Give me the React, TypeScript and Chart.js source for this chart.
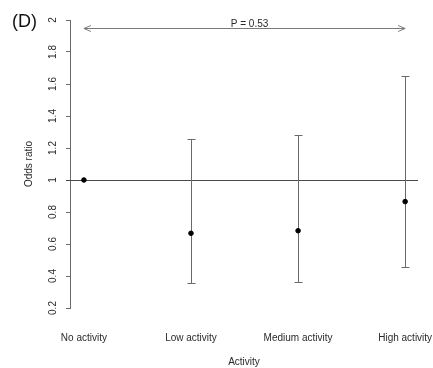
import React, { useEffect, useRef } from "react";
import { Chart, registerables } from "chart.js";

Chart.register(...registerables);

const CATEGORIES = ["No activity", "Low activity", "Medium activity", "High activity"];
const ODDS = [1, 0.667, 0.683, 0.865];
const CI_LOW: (number | null)[] = [null, 0.354, 0.363, 0.454];
const CI_HIGH: (number | null)[] = [null, 1.254, 1.283, 1.65];
const Y_TICKS = [0.2, 0.4, 0.6, 0.8, 1, 1.2, 1.4, 1.6, 1.8, 2];
const REF_Y = 1;
const ARROW_Y = 1.95;
const P_TEXT = "P = 0.53";
const PANEL_LABEL = "(D)";

const FONT = "'Liberation Sans', Arial, Helvetica, sans-serif";
const TEXT_COLOR = "#2a2a2a";
const LINE_COLOR = "#6a6a6a";

const overlay = {
  id: "overlay",
  beforeDatasetsDraw(chart: any) {
    const { ctx, chartArea, scales } = chart;
    const x = scales.x;
    const y = scales.y;
    ctx.save();
    ctx.lineWidth = 1;

    // reference line at OR = 1
    const yr = Math.round(y.getPixelForValue(REF_Y)) + 0.5;
    ctx.strokeStyle = "#4a4a4a";
    ctx.beginPath();
    ctx.moveTo(chartArea.left - 4, yr);
    ctx.lineTo(chartArea.right, yr);
    ctx.stroke();

    // error bars
    ctx.strokeStyle = LINE_COLOR;
    CATEGORIES.forEach((_, i) => {
      const lo = CI_LOW[i];
      const hi = CI_HIGH[i];
      if (lo == null || hi == null) return;
      const px = Math.round(x.getPixelForValue(i + 1)) + 0.5;
      const pLo = Math.round(y.getPixelForValue(lo)) + 0.5;
      const pHi = Math.round(y.getPixelForValue(hi)) + 0.5;
      ctx.beginPath();
      ctx.moveTo(px, pLo);
      ctx.lineTo(px, pHi);
      ctx.moveTo(px - 4, pLo);
      ctx.lineTo(px + 4, pLo);
      ctx.moveTo(px - 4, pHi);
      ctx.lineTo(px + 4, pHi);
      ctx.stroke();
    });

    // double arrow
    const ax1 = x.getPixelForValue(1);
    const ax2 = x.getPixelForValue(CATEGORIES.length);
    const ay = Math.round(y.getPixelForValue(ARROW_Y)) + 0.5;
    ctx.strokeStyle = "#7a7a7a";
    ctx.beginPath();
    ctx.moveTo(ax1, ay);
    ctx.lineTo(ax2, ay);
    ctx.moveTo(ax1 + 7, ay - 3);
    ctx.lineTo(ax1, ay);
    ctx.lineTo(ax1 + 7, ay + 3);
    ctx.moveTo(ax2 - 7, ay - 3);
    ctx.lineTo(ax2, ay);
    ctx.lineTo(ax2 - 7, ay + 3);
    ctx.stroke();

    ctx.fillStyle = TEXT_COLOR;
    ctx.font = `10px ${FONT}`;
    ctx.textAlign = "center";
    ctx.textBaseline = "alphabetic";
    ctx.fillText(P_TEXT, (ax1 + ax2) / 2 + 5, ay - 2);
    ctx.restore();
  },
  afterDraw(chart: any) {
    const { ctx } = chart;
    ctx.save();
    ctx.fillStyle = "#111";
    ctx.font = `18px ${FONT}`;
    ctx.textAlign = "left";
    ctx.textBaseline = "middle";
    ctx.fillText(PANEL_LABEL, 12, 22);
    ctx.restore();
  },
};

export default function App() {
  const ref = useRef<HTMLCanvasElement | null>(null);

  useEffect(() => {
    if (!ref.current) return;
    const font = { family: FONT, size: 10 };
    const chart = new Chart(ref.current, {
      type: "scatter",
      data: {
        datasets: [
          {
            label: "Odds ratio",
            data: ODDS.map((v, i) => ({ x: i + 1, y: v })),
            backgroundColor: "#000",
            borderColor: "#000",
            pointRadius: 2.3,
            pointHoverRadius: 2.3,
            showLine: false,
          },
        ],
      },
      options: {
        responsive: false,
        animation: false,
        events: [],
        layout: { padding: { left: 0, top: 20, right: 15, bottom: 0 } },
        plugins: {
          legend: { display: false },
          tooltip: { enabled: false },
          title: { display: false },
        },
        scales: {
          x: {
            type: "linear",
            min: 0.87,
            max: 4.12,
            afterBuildTicks: (s: any) => {
              s.ticks = CATEGORIES.map((_, i) => ({ value: i + 1 }));
            },
            afterFit: (s: any) => {
              s.height = 60;
              s.paddingLeft = 0;
              s.paddingRight = 0;
            },
            ticks: {
              autoSkip: false,
              minRotation: 0,
              maxRotation: 0,
              padding: 24,
              font,
              color: TEXT_COLOR,
              callback: (_v: any, i: number) => CATEGORIES[i],
            },
            grid: { display: false, drawTicks: false },
            border: { display: false },
            title: {
              display: true,
              text: "Activity",
              font,
              color: TEXT_COLOR,
              padding: { top: 0, bottom: 0 },
            },
          },
          y: {
            type: "linear",
            min: 0.2,
            max: 2,
            afterBuildTicks: (s: any) => {
              s.ticks = Y_TICKS.map((v) => ({ value: v }));
            },
            afterFit: (s: any) => {
              s.width = 70;
            },
            ticks: {
              minRotation: 90,
              maxRotation: 90,
              crossAlign: "center",
              padding: 6,
              font,
              color: TEXT_COLOR,
              callback: (v: any) => String(v),
            },
            grid: {
              display: true,
              drawOnChartArea: false,
              drawTicks: true,
              tickLength: 4,
              color: LINE_COLOR,
            },
            border: { display: true, color: LINE_COLOR },
            title: {
              display: true,
              text: "Odds ratio",
              font,
              color: TEXT_COLOR,
              padding: { top: 23, bottom: 0 },
            },
          },
        },
      },
      plugins: [overlay],
    } as any);
    return () => chart.destroy();
  }, []);

  return (
    <div style={{ position: "absolute", left: 0, top: 0, width: 433, height: 368, background: "#fff" }}>
      <canvas ref={ref} width={433} height={368} style={{ display: "block" }} />
    </div>
  );
}
